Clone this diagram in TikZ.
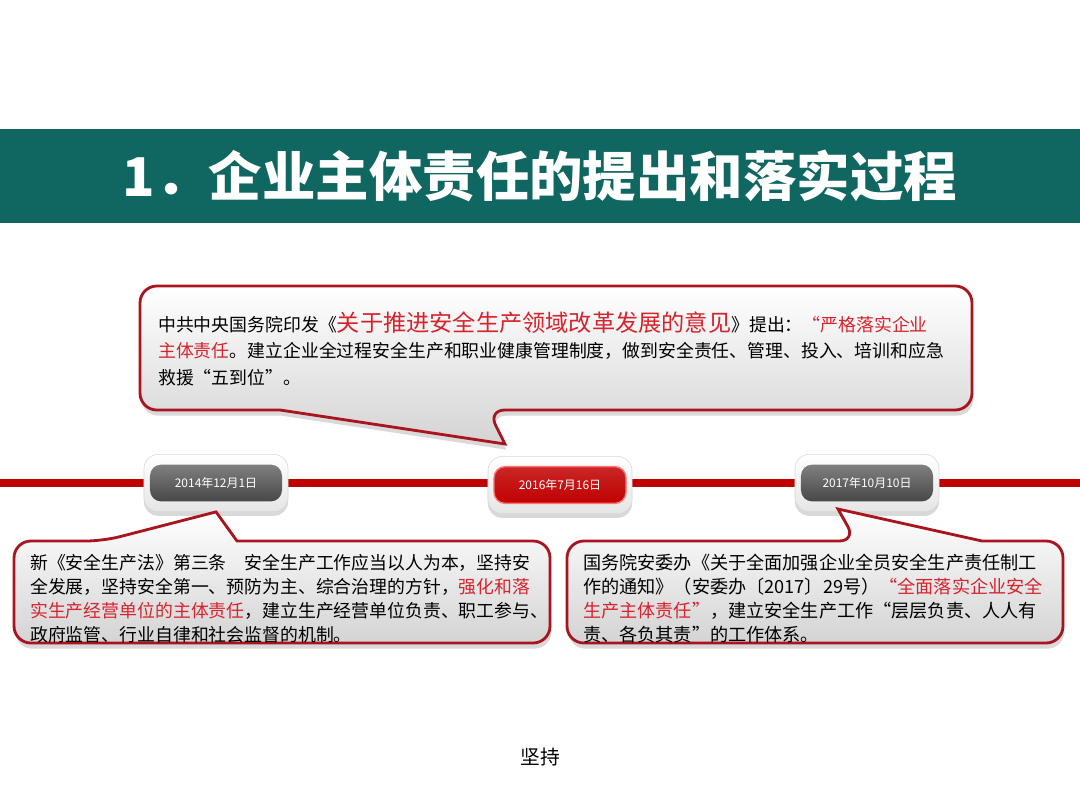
\documentclass[tikz,border=0pt]{standalone}
\usepackage{fontspec}
\setmainfont{Noto Sans CJK SC}
\usetikzlibrary{positioning,shadows}

\definecolor{bandteal}{RGB}{16,102,96}
\definecolor{axisred}{RGB}{192,0,0}
\definecolor{rimred}{RGB}{170,20,30}
\definecolor{keyred}{RGB}{215,35,45}

\tikzset{
  bubble/.style={draw=rimred, line width=2pt, rounded corners=12pt,
    top color=white, bottom color=black!17,
    drop shadow={opacity=0.3, shadow xshift=1pt, shadow yshift=-4pt}},
  halo/.style={rounded corners=10pt, inner sep=0pt, minimum width=3.6cm, minimum height=1.43cm,
    top color=white, bottom color=black!10, draw=black!15,
    drop shadow={opacity=0.3, shadow xshift=0pt, shadow yshift=-3pt}},
  datebtn/.style={rounded corners=8pt, inner sep=0pt, minimum width=3.3cm, minimum height=0.92cm,
    text=white, font=\fontsize{8.5}{8.5}\selectfont},
  graybtn/.style={datebtn, top color=black!50, bottom color=black!72},
  redbtn/.style={datebtn, top color=axisred!85, bottom color=axisred, draw=red!55!white, line width=1pt},
  bodytext/.style={anchor=north west, align=left, inner sep=0pt, font=\fontsize{12.7}{19}\selectfont},
}
\newcommand{\hl}[1]{\textcolor{keyred}{#1}}

\begin{document}
\begin{tikzpicture}[x=0.025cm, y=-0.025cm]
\useasboundingbox (0,0) rectangle (1080,810);
% title band
\fill[bandteal] (0,129) rectangle (1080,223);
\node[text=white, font=\fontsize{38}{38}\selectfont\bfseries] (title) at (540,176) {1．企业主体责任的提出和落实过程};

% timeline
\draw[axisred, line width=5.5pt] (0,483) -- (1080,483);

% date buttons
\node[halo] (h1) at (216,483) {};
\node[graybtn] (d1) at (h1) {2014年12月1日};
\node[halo] (h2) at (560,485) {};
\node[redbtn] (d2) at (h2) {2016年7月16日};
\node[halo] (h3) at (867,483) {};
\node[graybtn] (d3) at (h3) {2017年10月10日};

% callouts
\coordinate (tipA) at (505,444);
\coordinate (tipB) at (h1.south);
\coordinate (tipC) at (838,509);
\draw[bubble] (560,286) -- (972,286) -- (972,410) -- (488,410) [sharp corners] -- (tipA)
  -- (280,410) [rounded corners=12pt] -- (140,410) -- (140,286) -- cycle;
\draw[bubble] (300,541) -- (550,541) -- (550,643) -- (14,643) -- (14,541) -- (103,541)
  [sharp corners] -- (tipB) -- (237,541) [rounded corners=12pt] -- cycle;
\draw[bubble] (700,541) -- (856,541) [sharp corners] -- (tipC) -- (982,541)
  [rounded corners=12pt] -- (1063,541) -- (1063,643) -- (567,643) -- (567,541) -- cycle;

% texts
\node[bodytext] (topnote) at (158,311) {中共中央国务院印发《{\fontsize{16.5}{19}\selectfont\hl{关于推进安全生产领域改革发展的意见}}》提出：\hl{“严格落实企业}\\
  \hl{主体责任}。建立企业全过程安全生产和职业健康管理制度，做到安全责任、管理、投入、培训和应急\\
  救援“五到位”。};
\node[bodytext, font=\fontsize{12.7}{17}\selectfont] (lawnote) at (30,554) {新《安全生产法》第三条\quad 安全生产工作应当以人为本，坚持安\\
  全发展，坚持安全第一、预防为主、综合治理的方针，\hl{强化和落}\\
  \hl{实生产经营单位的主体责任}，建立生产经营单位负责、职工参与、\\
  政府监管、行业自律和社会监督的机制。};
\node[bodytext, font=\fontsize{12.9}{17}\selectfont] (boardnote) at (583,554) {国务院安委办《关于全面加强企业全员安全生产责任制工\\
  作的通知》（安委办〔2017〕29号）\hl{“全面落实企业安全}\\
  \hl{生产主体责任”}，建立安全生产工作“层层负责、人人有\\
  责、各负其责”的工作体系。};

\node[font=\fontsize{14}{14}\selectfont] (footer) at (540,757) {坚持};
\end{tikzpicture}
\end{document}
